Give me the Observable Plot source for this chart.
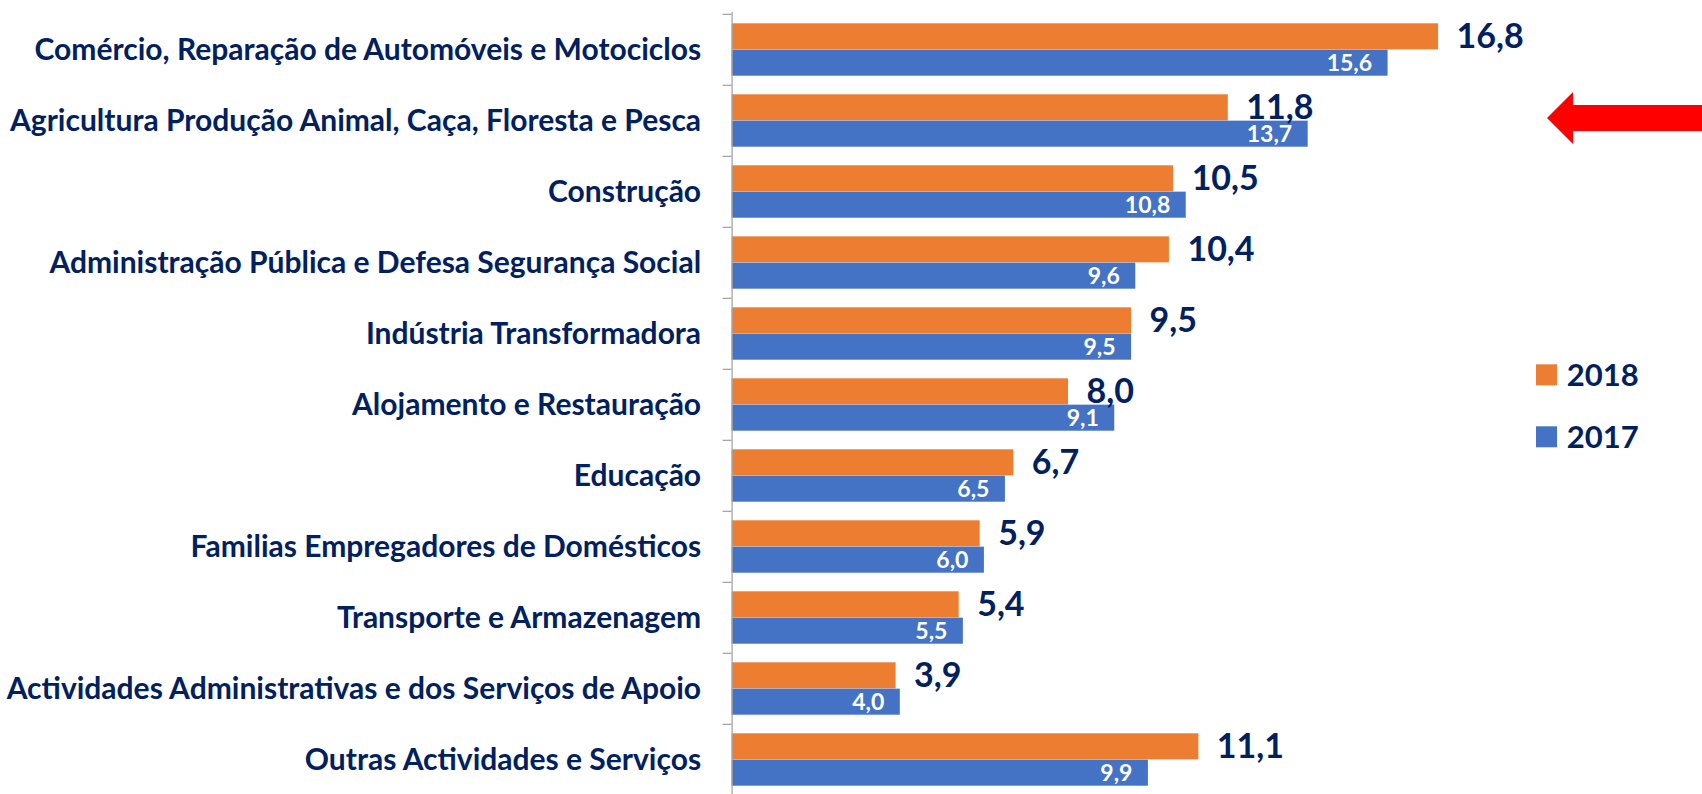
<!DOCTYPE html>
<html>
<head>
<meta charset="utf-8">
<script src="https://cdn.jsdelivr.net/npm/d3@7"></script>
<script src="https://cdn.jsdelivr.net/npm/@observablehq/plot@0.6"></script>
<style>
  html, body { margin: 0; padding: 0; background: #fff; }
  #wrap { position: relative; width: 1702px; height: 794px; overflow: hidden; }
  #legend { position: absolute; left: 0; top: 0; pointer-events: none; }
</style>
</head>
<body>
<div id="wrap"></div>
<script>
// ---- data ----
const categories = [
  "Comércio, Reparação de Automóveis e Motociclos",
  "Agricultura Produção Animal, Caça, Floresta e Pesca",
  "Construção",
  "Administração Pública e Defesa Segurança Social",
  "Indústria Transformadora",
  "Alojamento e Restauração",
  "Educação",
  "Familias Empregadores de Domésticos",
  "Transporte e Armazenagem",
  "Actividades Administrativas e dos Serviços de Apoio",
  "Outras Actividades e Serviços"
];
const values2018 = [16.8, 11.8, 10.5, 10.4, 9.5, 8.0, 6.7, 5.9, 5.4, 3.9, 11.1];
const values2017 = [15.6, 13.7, 10.8, 9.6, 9.5, 9.1, 6.5, 6.0, 5.5, 4.0, 9.9];
const years = ["2018", "2017"];
const highlighted = "Agricultura Produção Animal, Caça, Floresta e Pesca";

// ---- styles ----
const colors = ["#ED7D31", "#4472C4"];
const navy = "#002060";
const font = "Lato, 'Open Sans', sans-serif";

const rows = categories.map((c, i) => ({category: c, v2018: values2018[i], v2017: values2017[i]}));
const fmt = v => v.toFixed(1).replace(".", ",");

const step = (796.6 - 12.3) / categories.length;
const gap = 9.3;

function arrowMark(index, scales, values, dimensions) {
  const y = scales.y;
  const bw = typeof y.bandwidth === "function" ? y.bandwidth() : step;
  const yc = y(highlighted) + bw / 2 - 2.6;
  const W = dimensions.width;
  const tip = W - 155, base = W - 129;
  const pts = [
    [tip, yc], [base, yc - 26], [base, yc - 13], [W, yc - 13],
    [W, yc + 13], [base, yc + 13], [base, yc + 26]
  ];
  const g = document.createElementNS("http://www.w3.org/2000/svg", "polygon");
  g.setAttribute("points", pts.map(p => p.join(",")).join(" "));
  g.setAttribute("fill", "#FF0000");
  return g;
}

const chart = Plot.plot({
  width: 1702,
  height: 794,
  marginTop: 12,
  marginBottom: 0,
  marginLeft: 731.6,
  marginRight: 0,
  style: {fontFamily: font, background: "white", overflow: "visible"},
  x: {domain: [0, 20], range: [731.6, 731.6 + 20 * 42.05], axis: null},
  y: {domain: categories, range: [12.3, 796.6], padding: 0, label: null},
  marks: [
    Plot.barX(rows, {x: "v2018", y: "category", fill: colors[0], insetTop: gap, insetBottom: step / 2}),
    Plot.barX(rows, {x: "v2017", y: "category", fill: colors[1], insetTop: step / 2, insetBottom: gap}),
    Plot.ruleX([0], {stroke: "#A6A6A6", strokeWidth: 1.3}),
    Plot.axisY({tickSize: 9, tickFormat: () => "", label: null, dy: -step / 2, stroke: "#A6A6A6", strokeWidth: 1.3}),
    Plot.axisY({tickSize: 0, tickPadding: 31, label: null, fontSize: 30, fontWeight: "bold", fill: navy}),
    Plot.text(rows, {x: "v2018", y: "category", text: d => fmt(d.v2018), textAnchor: "start", dx: 18, dy: -12.5,
      fontSize: 34, fontWeight: "bold", fill: navy}),
    Plot.text(rows, {x: "v2017", y: "category", text: d => fmt(d.v2017), textAnchor: "end", dx: -16, dy: 13.5,
      fontSize: 23, fontWeight: "bold", fill: "white"}),
    arrowMark
  ]
});

const wrap = document.getElementById("wrap");
wrap.appendChild(chart);

// ---- legend (overlay) ----
const ns = "http://www.w3.org/2000/svg";
const leg = document.createElementNS(ns, "svg");
leg.setAttribute("id", "legend");
leg.setAttribute("width", 1702);
leg.setAttribute("height", 794);
years.forEach((yr, i) => {
  const top = 364.3 + i * 62;
  const r = document.createElementNS(ns, "rect");
  r.setAttribute("x", 1536); r.setAttribute("y", top);
  r.setAttribute("width", 21); r.setAttribute("height", 21);
  r.setAttribute("fill", colors[i]);
  leg.appendChild(r);
  const t = document.createElementNS(ns, "text");
  t.setAttribute("x", 1566.7); t.setAttribute("y", top + 21.4);
  t.setAttribute("font-family", font);
  t.setAttribute("font-size", 31);
  t.setAttribute("font-weight", "bold");
  t.setAttribute("fill", navy);
  t.textContent = yr;
  leg.appendChild(t);
});
wrap.appendChild(leg);
</script>
</body>
</html>
